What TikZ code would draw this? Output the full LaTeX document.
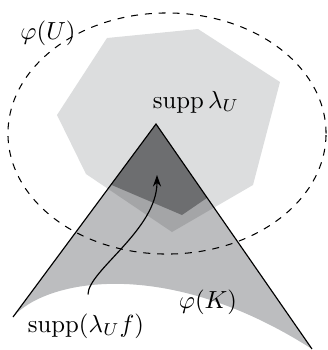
\documentclass[tikz,border=0pt]{standalone}
\usepackage{amsmath, amssymb}
\usepackage{xcolor}
\usepackage{tikz}
\usetikzlibrary{positioning, arrows.meta}
\definecolor{supplight}{HTML}{DCDDDE}
\definecolor{phik}{HTML}{BCBDBF}
\definecolor{suppover}{HTML}{A4A5A7}
\definecolor{suppdark}{HTML}{6D6E70}

\begin{document}
\begin{tikzpicture}[x=0.0152cm, y=-0.0152cm,
        edge/.style={draw=black, line width=0.5pt},
        chart/.style={draw=black, dashed, line width=0.45pt},
        lbl/.style={inner sep=1pt, scale=1.07}]
        \useasboundingbox (0,0) rectangle (328,350);
        % supp lambda_U
        \fill[supplight] (107,38) -- (198,29) -- (280,82) -- (253,185) -- (172,232) -- (86,174) -- (57,115) -- cycle;
        % phi(K)
        \fill[phik] (13,317) -- (156,124) -- (312,349) .. controls (165,255) and (45,280) .. (13,317);
        \begin{scope}
          \clip (13,317) -- (156,124) -- (312,349) .. controls (165,255) and (45,280) .. (13,317);
          \fill[suppover] (107,38) -- (198,29) -- (280,82) -- (253,185) -- (172,232) -- (86,174) -- (57,115) -- cycle;
          \fill[suppdark] (100,180) -- (182,215) -- (220,189) -- (156,100) -- cycle;
        \end{scope}
        \draw[edge] (13,317) -- (156,124) -- (312,349);
        \draw[chart] (167,133.5) ellipse [x radius=2.417cm, y radius=1.832cm];
        % labels
        \node[lbl] (phiu) at (48,33) {$\varphi(U)$};
        \node[lbl] (supplam) at (196,102) {$\operatorname{supp}\lambda_U$};
        \node[lbl] (phikl) at (208,302) {$\varphi(K)$};
        \node[lbl] (suppf) at (86,326) {$\operatorname{supp}(\lambda_U f)$};
        \coordinate (ftip) at (157,175);
        \draw[-{Stealth[length=5pt, width=3.5pt]}, line width=0.5pt, shorten <=7pt] (suppf.north -| 88,0) .. controls +(0,-40) and (157,230) .. (ftip);
      \end{tikzpicture}
\end{document}
